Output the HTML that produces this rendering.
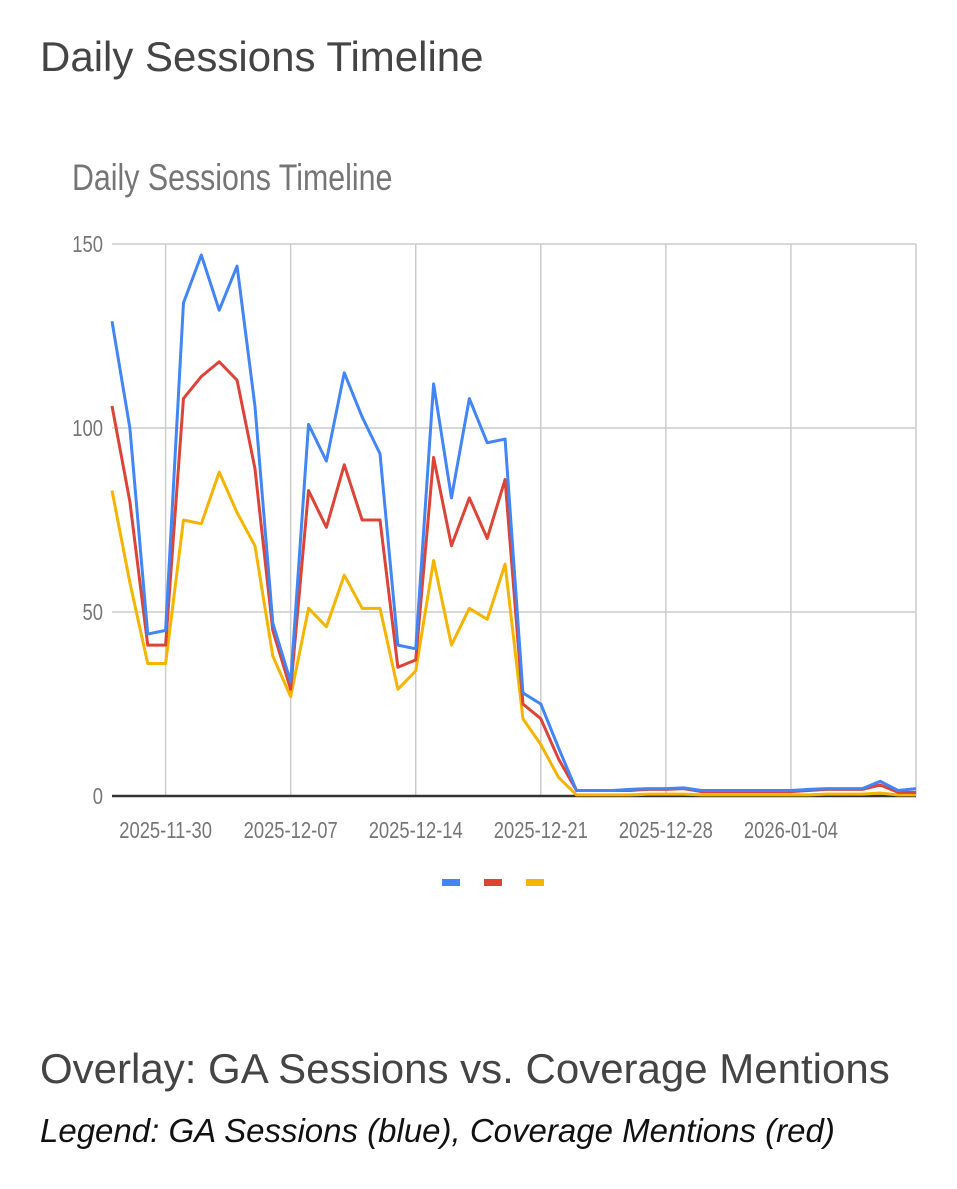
<!DOCTYPE html>
<html><head><meta charset="utf-8"><style>
body{margin:0;width:957px;height:1189px;background:#fff;font-family:"Liberation Sans",sans-serif;position:relative;overflow:hidden}
.h{position:absolute;left:40px;color:#444;font-size:42px;margin:0;font-weight:normal}
svg text{font-family:"Liberation Sans",sans-serif}
</style></head><body>
<h1 class="h" style="top:33px">Daily Sessions Timeline</h1>
<svg id="chart" width="957" height="960" style="position:absolute;left:0;top:0"></svg>
<h2 class="h" style="top:1045px">Overlay: GA Sessions vs. Coverage Mentions</h2>
<div style="position:absolute;left:40px;top:1112px;font-size:33px;font-style:italic;color:#111">Legend: GA Sessions (blue), Coverage Mentions (red)</div>
<script>
const startDate = "2025-11-27";
const blueValues = [129,100,44,45,134,147,132,144,106,47,31,101,91,115,103,93,41,40,112,81,108,96,97,28,25,13,1.5,1.5,1.5,1.8,2,2,2.2,1.5,1.5,1.5,1.5,1.5,1.5,1.8,2,2,2,4,1.5,2];
const redValues = [106,80,41,41,108,114,118,113,89,45,29,83,73,90,75,75,35,37,92,68,81,70,86,25,21,10,1.5,1.5,1.5,1.5,1.8,1.8,2,1.2,1.2,1.2,1.2,1.2,1.2,1.5,1.8,1.8,1.8,3,1,1];
const yellowValues = [83,58,36,36,75,74,88,77,68,38,27,51,46,60,51,51,29,34,64,41,51,48,63,21,14,5,0.3,0.3,0.3,0.3,0.5,0.5,0.5,0.3,0.3,0.3,0.3,0.3,0.3,0.3,0.5,0.5,0.5,0.8,0.3,0.3];
const yTicks = [0,50,100,150];
const xTickLabels = ["2025-11-30","2025-12-07","2025-12-14","2025-12-21","2025-12-28","2026-01-04"];
const xTickDayOffsets = [3,10,17,24,31,38];

const NS="http://www.w3.org/2000/svg", svg=document.getElementById('chart');
const L=112,R=916,T=244,B=796,nDays=45;
const x=d=>L+d*(R-L)/nDays;
const y=v=>B-v*(B-T)/150;
function mk(t,a,p){const e=document.createElementNS(NS,t);for(const k in a)e.setAttribute(k,a[k]);(p||svg).appendChild(e);return e;}
let t=mk('text',{x:72,y:190,'font-size':37,fill:'#757575',transform:'translate(72 0) scale(0.82 1) translate(-72 0)'});


t.textContent="Daily Sessions Timeline";
yTicks.forEach(v=>{
 if(v>0){const g=mk('line',{x1:L,x2:R,y1:y(v),y2:y(v),stroke:'#ccc','stroke-width':1.5});
 
 }
 const lb=mk('text',{x:103,y:y(v)+8,'font-size':23,fill:'#757575','text-anchor':'end',transform:`translate(103 0) scale(0.8 1) translate(-103 0)`});
 
 
 lb.textContent=v;
});
mk('line',{x1:R,x2:R,y1:T,y2:B,stroke:'#ccc','stroke-width':1.5});
xTickDayOffsets.forEach((d,i)=>{
 const g=mk('line',{x1:x(d),x2:x(d),y1:T,y2:B,stroke:'#ccc','stroke-width':1.5});
 
 
 const cx=x(d);
 const lb=mk('text',{x:cx,y:838,'font-size':23,fill:'#757575','text-anchor':'middle',transform:`translate(${cx} 0) scale(0.8 1) translate(${-cx} 0)`});
 
 
 lb.textContent=xTickLabels[i];
});
const series=[[blueValues,'#4285f4','blue-series'],[redValues,'#db4437','red-series'],[yellowValues,'#f4b400','yellow-series']];
const axis=mk('line',{x1:L,x2:R,y1:B,y2:B,stroke:'#333','stroke-width':2.5});


series.slice().reverse().forEach(s=>{
 const p=mk('polyline',{points:s[0].map((v,i)=>x(i)+','+y(v)).join(' '),fill:'none',stroke:s[1],'stroke-width':3,'stroke-linejoin':'round'});
 
 
});
series.forEach((s,i)=>{
 const r=mk('rect',{x:442+i*42,y:879,width:18,height:7,fill:s[1]});
 
 
});
</script>
</body></html>
